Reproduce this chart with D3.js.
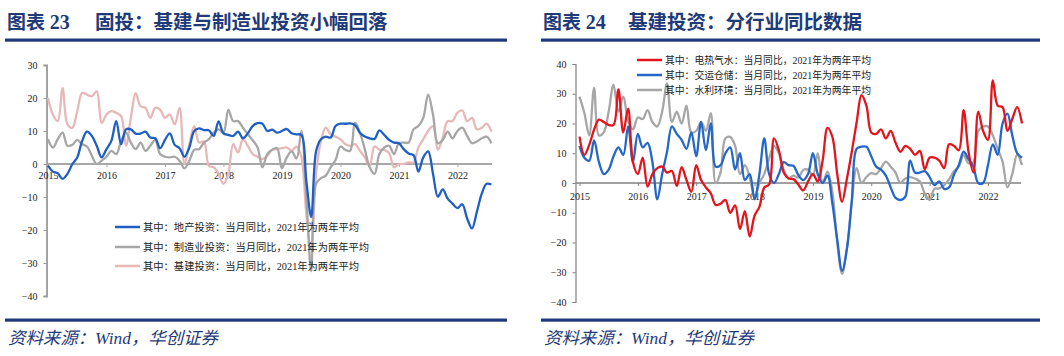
<!DOCTYPE html>
<html><head><meta charset="utf-8">
<script src="https://cdn.jsdelivr.net/npm/d3@7"></script>
<style>
html,body{margin:0;padding:0;background:#fff;}
svg{display:block;}
</style></head>
<body>
<svg id="c" width="1064" height="356"></svg>
<script>
// ---------- DATA ----------
const yearLabels = ["2015","2016","2017","2018","2019","2020","2021","2022"];
const yearTickIndex = [0,12,24,36,48,60,72,84];

// Chart 23 (固投)
const leftTicks = [30,20,10,0,-10,-20,-30,-40];
const leftNames = ["其中：地产投资：当月同比，2021年为两年平均","其中：制造业投资：当月同比，2021年为两年平均","其中：基建投资：当月同比，2021年为两年平均"];
const realEstate = [-0.5,-2.3,-2.8,-4.5,-3,0,2,7,9.8,8.5,5.5,2,
 4.5,7,13,6,10.5,10.5,9.2,9.2,9.8,8,7.8,4.8,
 7.3,9.3,5.8,4.8,2.2,5,10,10.8,10.3,10.2,8.5,12.9,
 9.3,8.8,8.5,9.8,7.8,9.3,11.5,12.4,12.2,10,10.4,9.5,
 10,10.6,9.3,9,8.8,-5,-16,3.8,7.5,8.3,8,11.5,
 12.2,12.2,12.3,11.8,9.5,8.3,7.8,7.6,10.2,8.8,7.3,6.5,
 6.3,4.5,3.2,2.7,-2.3,2,3.8,-3,-9.9,-7.7,-10.5,-12,
 -13.4,-12.2,-16.5,-19.5,-14.5,-9,-6,-6.2];
const manufacturing = [7.5,5,7.5,9.5,5.5,5.8,7.3,6,5.3,2.5,0,1,
 2.2,4,3,7,9.5,6.5,4.5,6.5,4,5.5,7.3,3,
 2.2,2,2.2,1,-1.3,1,4.3,4.5,6.5,7.5,9.5,10.5,
 9.5,16.4,13,13,11,9,7.2,5,-1,3,4.3,4.8,
 -1.3,2,3.8,1.7,10,-10,-32.5,-6,-4.3,-3.5,-1,1.2,
 5.3,4.3,4,12.5,9.5,4.5,-1,-3,3,5,5.5,3,
 6.3,6.5,6.5,10.5,11.5,14,21,15,6.3,7.3,9.8,7.8,
 10,11,8.5,6.3,6.8,7.8,8.3,6.3];
const infrastructure = [20,15,13,23,12,11,16,21.5,21,20.5,22,12.5,
 15,16,15.5,14.5,5.5,14,21.5,17.5,17,14,17,16.5,
 14,15,12,17,0,6,11.5,6.5,6.8,-0.5,-1,-3,
 -6,-3,6,3.5,7.5,5.5,3,2.2,1.5,2.5,4.3,4.5,
 4.8,5,4,5.3,2,-15,-26,-3,7,11,9,8.3,
 7.5,6,5.5,6,4,2,-0.5,5.3,4.3,4.3,3.3,-1,
 0,0,0.5,0.5,5,7.5,10,11.5,4.3,8,13,13,
 15.5,16.2,13,14,10.5,11,12.2,9.8];

// Chart 24 (基建分行业)
const rightTicks = [40,30,20,10,0,-10,-20,-30,-40];
const rightNames = ["其中：电热气水：当月同比，2021年为两年平均","其中：交运仓储：当月同比，2021年为两年平均","其中：水利环境：当月同比，2021年为两年平均"];
const power = [15.6,9.5,12.8,18,21.3,20.5,19.5,19.5,31.5,17,25,7,
 3,8.5,-1.2,3,5,5.5,3.5,4,-1,5.3,1,-3,
 6,1,-1.5,-3.5,-7.4,-7,-5.7,-10,-7.5,-15.5,-9.5,-18,
 -11,-8,-1.5,-0.5,15,11,3.5,1.5,1.3,-0.5,-2.5,0.5,
 3,0.5,7.5,18.5,15.5,3,-6.3,1.5,10.5,20.5,29.5,26,
 17,16.5,18,15,17.5,13.5,10.5,12.5,11.5,9.5,10.8,4.6,
 8.5,8.5,7.5,5,13,12.5,11,24.5,10.5,3.5,24,17.5,
 14.5,34.5,26,25.5,17.5,21.5,25.5,20];
const transport = [12.5,8.5,7.5,14.3,7,3,4.5,9,12,9.5,19,7,
 16.5,12,13.5,7,-5.5,3,10.5,19,16.5,14.5,11.5,17,
 9,20.5,11,20,5.5,6,10,12,4.5,10,1,3,
 -5.5,3,15,3,0,3,7,6,5.8,2.7,1,3,
 10,3,0,2.5,-6.8,-19,-29.5,-22,-6,11.5,12.2,12.2,
 9,5.5,4.5,2.5,-1.5,-5,-5.7,-4.6,7.5,3.5,3.5,4,
 2,-0.7,0.5,-2,-1.5,2.8,6,10.5,8,5.5,0,0,
 6,13,9.5,20,23.3,16,10,8.5];
const water = [29,23.5,16,32,16,17,24,33,24,29,21,18,
 22,21.5,24.5,20.5,19,24,33.5,20.5,24,20,26,17,
 17.5,20.5,17.5,23.5,0,3.5,15,15.5,12.5,3,6,2,
 -5,0,3,8.3,12.5,10,4.5,1.6,2.5,1.8,4.4,4.5,
 2.5,10,0,3.8,-3,-20,-30.5,-22,-6,5,0,2,
 3.3,3,5,7.2,5.5,3.5,0,1.5,2,1.5,0.5,-3.5,
 -5.7,-2,-1.8,-0.7,1.2,4,5.5,9.4,6.6,7,17.5,19,
 19,16,11.5,7.2,-1.5,3,9.5,6];

// ---------- DRAW ----------
const svg = d3.select("#c");
svg.append("rect").attr("width",1064).attr("height",356).attr("fill","#fff");
const NAVY = "#1F3A78";
const SERIF = "'Liberation Serif','Times New Roman','Noto Sans CJK SC',serif";
const CJK = "'Liberation Serif','Noto Sans CJK SC',serif";

function header(x0, x1, num, title, titleX) {
  const g = svg.append("g");
  const t = g.append("text").attr("x", x0 + 2).attr("y", 29)
    .attr("fill", NAVY).attr("font-family", CJK).attr("font-weight", "bold")
    .attr("font-size", 19);
  t.append("tspan").text("图表 ");
  t.append("tspan").attr("font-size", 20).text(num);
  g.append("text").attr("x", titleX).attr("y", 29).attr("fill", NAVY)
    .attr("font-family", CJK).attr("font-weight", "bold").attr("font-size", 19.5).text(title);
  g.append("rect").attr("x", x0).attr("y", 38.5).attr("width", x1 - x0).attr("height", 3.2).attr("fill", NAVY);
  g.append("rect").attr("x", x0).attr("y", 318.5).attr("width", x1 - x0).attr("height", 3.2).attr("fill", NAVY);
  g.append("text").attr("x", x0 + 3).attr("y", 344).attr("fill", NAVY)
    .attr("font-family", CJK).attr("font-style", "italic").attr("font-size", 17)
    .attr("textLength", 210).attr("lengthAdjust", "spacingAndGlyphs")
    .text("资料来源：Wind，华创证券");
}
header(5, 507, "23", "固投：基建与制造业投资小幅回落", 95);
header(541, 1040, "24", "基建投资：分行业同比数据", 628);

function panel(cfg) {
  const g = svg.append("g");
  const n = cfg.series[0].values.length;
  const x = d3.scaleLinear().domain([0, n - 1]).range(cfg.xRange);
  const y = d3.scaleLinear().domain(cfg.yDomain).range(cfg.yRange);

  // y axis
  const yAxis = d3.axisLeft(y).tickValues(cfg.yTicks).tickSize(3).tickPadding(6).tickFormat(d3.format("d"));
  const ya = g.append("g").attr("transform", `translate(${cfg.xAxisPos},0)`).call(yAxis);
  ya.select(".domain").attr("stroke", cfg.axisColor).attr("stroke-width", cfg.yAxisWidth);
  ya.selectAll(".tick line").attr("stroke", cfg.axisColor);
  ya.selectAll("text").attr("font-family", SERIF).attr("font-size", 10).attr("fill", "#222");

  // zero axis with year ticks
  const xAxis = d3.axisBottom(x).tickValues(yearTickIndex).tickSize(3)
    .tickFormat((d, i) => yearLabels[i]).tickPadding(cfg.labelPad);
  const xa = g.append("g").attr("transform", `translate(0,${y(0)})`).call(xAxis);
  xa.select(".domain").attr("d", `M${cfg.xAxisPos},0H${cfg.zeroEnd}`)
    .attr("stroke", cfg.zeroColor).attr("stroke-width", cfg.zeroWidth);
  xa.selectAll(".tick line").attr("stroke", cfg.zeroColor);
  xa.selectAll("text").attr("font-family", SERIF).attr("font-size", 10).attr("fill", "#222");

  const line = d3.line().x((d, i) => x(i)).y(d => y(d)).curve(d3.curveCatmullRom.alpha(0.5));
  cfg.series.slice().reverse().forEach(s => {
    g.append("path").attr("d", line(s.values)).attr("fill", "none")
      .attr("stroke", s.color).attr("stroke-width", 2.3).attr("stroke-linejoin", "round");
  });

  // legend
  cfg.series.forEach((s, i) => {
    const ly = cfg.legY[i];
    g.append("line").attr("x1", cfg.legX).attr("x2", cfg.legX + 25).attr("y1", ly).attr("y2", ly)
      .attr("stroke", s.color).attr("stroke-width", 2.5);
    g.append("text").attr("x", cfg.legX + 28).attr("y", ly + 4).attr("font-family", CJK)
      .attr("font-size", cfg.legFont).attr("fill", "#222")
      .attr("textLength", cfg.legLen[i]).attr("lengthAdjust", "spacingAndGlyphs").text(s.name);
  });
}

panel({
  xRange: [48, 491.5], yDomain: [-40, 30], yRange: [296, 65], yTicks: leftTicks,
  xAxisPos: 46.5, zeroEnd: 492, axisColor: "#999", yAxisWidth: 1.8,
  zeroColor: "#A8A8A8", zeroWidth: 2, labelPad: 5,
  legX: 115, legY: [227, 247, 266], legFont: 10.5, legLen: [216, 226, 216],
  series: [
    { name: leftNames[0], values: realEstate, color: "#1F5FC4" },
    { name: leftNames[1], values: manufacturing, color: "#A6A6A6" },
    { name: leftNames[2], values: infrastructure, color: "#E6B8B7" }
  ]
});

panel({
  xRange: [579.5, 1022], yDomain: [-40, 40], yRange: [302, 64], yTicks: rightTicks,
  xAxisPos: 575.5, zeroEnd: 1021, axisColor: "#808080", yAxisWidth: 1.2,
  zeroColor: "#808080", zeroWidth: 1.3, labelPad: 7,
  legX: 637, legY: [60, 75, 90], legFont: 10.5, legLen: [206, 206, 206],
  series: [
    { name: rightNames[0], values: power, color: "#E3141C" },
    { name: rightNames[1], values: transport, color: "#2467C8" },
    { name: rightNames[2], values: water, color: "#A6A6A6" }
  ]
});
</script>
</body></html>
